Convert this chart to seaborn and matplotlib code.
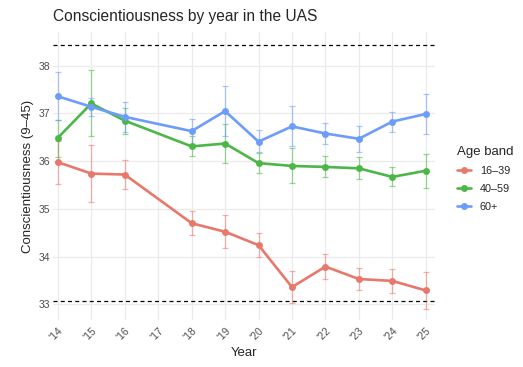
import matplotlib
matplotlib.use("Agg")
import matplotlib.pyplot as plt
import matplotlib.transforms as mtransforms
import seaborn as sns
import pandas as pd
from matplotlib.lines import Line2D

# data
YEARS = [2014, 2015, 2016, 2018, 2019, 2020, 2021, 2022, 2023, 2024, 2025]
BANDS = ["16–39", "40–59", "60+"]

MEAN_16_39 = [35.98, 35.74, 35.72, 34.70, 34.52, 34.24, 33.36, 33.79, 33.53, 33.49, 33.29]
LOW_16_39  = [35.53, 35.14, 35.42, 34.46, 34.18, 33.99, 33.03, 33.52, 33.30, 33.23, 32.90]
HIGH_16_39 = [36.42, 36.34, 36.03, 34.95, 34.87, 34.49, 33.69, 34.06, 33.76, 33.75, 33.68]

MEAN_40_59 = [36.49, 37.21, 36.85, 36.31, 36.37, 35.96, 35.90, 35.88, 35.85, 35.67, 35.80]
LOW_40_59  = [36.09, 36.52, 36.58, 36.10, 35.96, 35.76, 35.54, 35.67, 35.63, 35.47, 35.44]
HIGH_40_59 = [36.87, 37.91, 37.11, 36.52, 36.78, 36.18, 36.27, 36.10, 36.08, 35.88, 36.16]

MEAN_60 = [37.36, 37.14, 36.93, 36.63, 37.05, 36.41, 36.73, 36.58, 36.47, 36.83, 36.99]
LOW_60  = [36.86, 36.95, 36.62, 36.37, 36.53, 36.19, 36.31, 36.35, 36.19, 36.62, 36.57]
HIGH_60 = [37.86, 37.33, 37.25, 36.88, 37.58, 36.65, 37.16, 36.81, 36.74, 37.04, 37.40]

REF_LINES = [38.44, 33.07]
TICK_YEARS = list(range(2014, 2026))
TICK_LABELS = ["'" + str(y)[2:] for y in TICK_YEARS]

COLORS = {"16–39": "#E8786B", "40–59": "#4CB748", "60+": "#6D9CFB"}

rows = []
for band, m, lo, hi in [("16–39", MEAN_16_39, LOW_16_39, HIGH_16_39),
                        ("40–59", MEAN_40_59, LOW_40_59, HIGH_40_59),
                        ("60+", MEAN_60, LOW_60, HIGH_60)]:
    for yr, a, b, c in zip(YEARS, m, lo, hi):
        rows.append({"year": yr, "band": band, "mean": a, "low": b, "high": c})
df = pd.DataFrame(rows)

sns.set_theme(style="whitegrid")
plt.rcParams["font.family"] = ["Liberation Sans", "DejaVu Sans"]

fig = plt.figure(figsize=(5.23, 3.67), dpi=100)
ax = fig.add_axes([0.101, 0.128, 0.731, 0.785])

# error bars first so lines sit on top
for band in BANDS:
    sub = df[df["band"] == band]
    ax.errorbar(sub["year"], sub["mean"],
                yerr=[sub["mean"] - sub["low"], sub["high"] - sub["mean"]],
                fmt="none", ecolor=COLORS[band], alpha=0.55,
                elinewidth=0.9, capsize=2.4, capthick=0.9, zorder=2)

sns.lineplot(data=df, x="year", y="mean", hue="band", hue_order=BANDS,
             palette=COLORS, marker="o", markersize=5, markeredgewidth=0,
             linewidth=1.9, legend=False, ax=ax, zorder=3)

for v in REF_LINES:
    ax.axhline(v, color="black", linestyle=(0, (3.2, 2.6)), linewidth=0.9, zorder=1)

ax.set_xlim(2013.85, 2025.28)
ax.set_ylim(32.67, 38.71)
ax.set_xticks(TICK_YEARS)
ax.set_xticklabels(TICK_LABELS, rotation=45, ha="right", va="top",
                   rotation_mode="anchor", fontsize=7.5, color="#4D4D4D")
# nudge rotated labels a little to the right, like the reference
offset = mtransforms.ScaledTranslation(4 / 72, 0, fig.dpi_scale_trans)
for lab in ax.get_xticklabels():
    lab.set_transform(lab.get_transform() + offset)
ax.set_yticks([33, 34, 35, 36, 37, 38])
ax.set_yticklabels(["33", "34", "35", "36", "37", "38"], fontsize=7.5, color="#4D4D4D")
ax.tick_params(axis="both", length=0, pad=2)
ax.tick_params(axis="x", pad=4)

ax.grid(True, color="#EBEBEB", linewidth=0.9)
for s in ax.spines.values():
    s.set_visible(False)
ax.set_facecolor("white")

ax.set_xlabel("Year", fontsize=9.5, labelpad=3)
ax.set_ylabel("Conscientiousness (9–45)", fontsize=9.5, labelpad=3)
ax.set_title("Conscientiousness by year in the UAS", fontsize=11.2, loc="left", pad=8)

handles = [Line2D([0], [0], color=COLORS[b], linewidth=1.9, marker="o",
                  markersize=5, markeredgewidth=0) for b in BANDS]
leg = fig.legend(handles, BANDS, title="Age band", loc="upper left",
                 bbox_to_anchor=(0.855, 0.63), frameon=False, fontsize=7.8,
                 title_fontsize=9.5, handlelength=1.3, handletextpad=0.8,
                 labelspacing=0.75, alignment="left")

fig.savefig("out.png", dpi=100)
